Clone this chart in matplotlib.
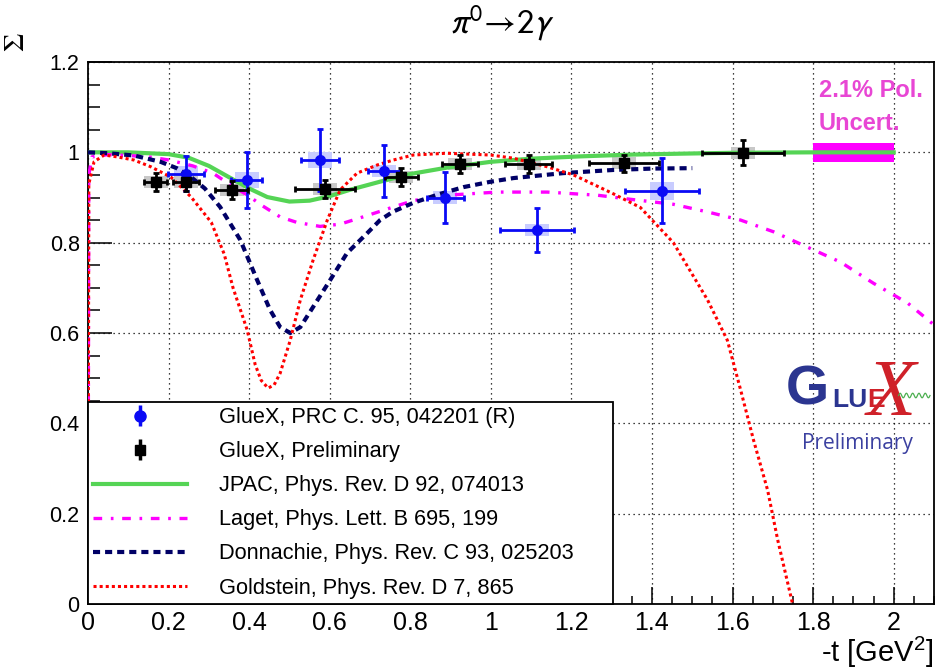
import numpy as np
import matplotlib
matplotlib.use("Agg")
import matplotlib.pyplot as plt
from matplotlib import font_manager
from matplotlib.ticker import MultipleLocator, FuncFormatter


def has_font(name):
    try:
        font_manager.findfont(name, fallback_to_default=False)
        return True
    except ValueError:
        return False


plt.rcParams['font.family'] = ['Liberation Sans', 'DejaVu Sans']
plt.rcParams['mathtext.fontset'] = 'custom'
plt.rcParams['mathtext.rm'] = 'Liberation Sans'
plt.rcParams['mathtext.it'] = 'Liberation Sans:italic'
narrow = 'Liberation Sans Narrow' if has_font('Liberation Sans Narrow') else 'Liberation Sans'

# GlueX, PRC C 95, 042201 (R)
pub_t = [0.243, 0.394, 0.576, 0.734, 0.887, 1.115, 1.425]
pub_sigma = [0.953, 0.939, 0.983, 0.959, 0.900, 0.828, 0.915]
pub_terr = [0.045, 0.038, 0.047, 0.040, 0.046, 0.092, 0.091]
pub_err = [0.039, 0.062, 0.069, 0.057, 0.057, 0.048, 0.072]
pub_sys = [0.017, 0.017, 0.017, 0.014, 0.014, 0.014, 0.020]

# GlueX preliminary
pre_t = [0.168, 0.243, 0.357, 0.589, 0.777, 0.924, 1.094, 1.330, 1.626]
pre_sigma = [0.935, 0.934, 0.916, 0.918, 0.945, 0.974, 0.974, 0.976, 0.999]
pre_terr = [0.028, 0.033, 0.041, 0.075, 0.041, 0.045, 0.058, 0.087, 0.102]
pre_err = [0.020, 0.020, 0.020, 0.020, 0.020, 0.020, 0.020, 0.019, 0.028]
pre_sys = [0.013, 0.013, 0.013, 0.013, 0.013, 0.013, 0.013, 0.013, 0.013]

# model curves
jpac_t = [0.0, 0.1, 0.2, 0.25, 0.3, 0.36, 0.4, 0.445, 0.5, 0.55, 0.6, 0.65,
          0.725, 0.8, 0.89, 1.0, 1.1, 1.22, 1.35, 1.47, 1.6, 1.8, 2.0]
jpac_sigma = [1.0, 1.0, 0.996, 0.988, 0.97, 0.94, 0.92, 0.901, 0.891, 0.893,
              0.903, 0.917, 0.935, 0.952, 0.966, 0.979, 0.986, 0.991, 0.995,
              0.997, 0.999, 1.0, 1.0]

laget_t = [0.0, 0.002, 0.01, 0.05, 0.1, 0.15, 0.201, 0.26, 0.31, 0.35, 0.4,
           0.427, 0.477, 0.518, 0.576, 0.626, 0.693, 0.758, 0.807, 0.89,
           1.016, 1.14, 1.265, 1.347, 1.453, 1.538, 1.62, 1.702, 1.786,
           1.868, 1.95, 2.035, 2.1]
laget_sigma = [0.0, 0.95, 0.99, 0.995, 0.993, 0.99, 0.983, 0.97, 0.954, 0.93,
               0.903, 0.885, 0.857, 0.845, 0.836, 0.841, 0.86, 0.879, 0.893,
               0.905, 0.912, 0.912, 0.905, 0.896, 0.885, 0.868, 0.85, 0.824,
               0.79, 0.757, 0.71, 0.666, 0.618]

donn_t = [0.0, 0.05, 0.114, 0.18, 0.22, 0.256, 0.29, 0.328, 0.378, 0.42,
          0.452, 0.477, 0.502, 0.527, 0.559, 0.601, 0.643, 0.693, 0.725,
          0.758, 0.807, 0.87, 0.932, 1.0, 1.056, 1.18, 1.304, 1.4, 1.5]
donn_sigma = [1.0, 0.998, 0.993, 0.979, 0.965, 0.945, 0.92, 0.879, 0.806,
              0.717, 0.651, 0.613, 0.6, 0.613, 0.658, 0.717, 0.777, 0.821,
              0.85, 0.869, 0.888, 0.907, 0.923, 0.935, 0.943, 0.954, 0.961,
              0.964, 0.965]

gold_t = [0.0, 0.002, 0.015, 0.04, 0.072, 0.114, 0.156, 0.206, 0.256, 0.306,
          0.338, 0.36, 0.395, 0.415, 0.43, 0.447, 0.462, 0.477, 0.502, 0.527,
          0.559, 0.594, 0.626, 0.668, 0.718, 0.758, 0.807, 0.89, 1.0, 1.056,
          1.14, 1.205, 1.3, 1.371, 1.453, 1.538, 1.587, 1.62, 1.652, 1.687,
          1.712, 1.749]
gold_sigma = [0.0, 0.93, 0.979, 0.994, 0.99, 0.983, 0.968, 0.945, 0.901,
              0.845, 0.775, 0.70, 0.607, 0.53, 0.495, 0.478, 0.485, 0.511,
              0.584, 0.673, 0.762, 0.85, 0.917, 0.954, 0.972, 0.983, 0.994,
              0.998, 0.994, 0.987, 0.968, 0.95, 0.91, 0.878, 0.8, 0.673,
              0.584, 0.474, 0.363, 0.252, 0.142, 0.0]

pol_range = [1.8, 2.0]
pol_uncert = 0.021

labels = ['GlueX, PRC C. 95, 042201 (R)', 'GlueX, Preliminary',
          'JPAC, Phys. Rev. D 92, 074013', 'Laget, Phys. Lett. B 695, 199',
          'Donnachie, Phys. Rev. C 93, 025203', 'Goldstein, Phys. Rev. D 7, 865']

navy_logo = '#2b3590'
red_logo = '#cf2129'

fig = plt.figure(figsize=(9.52, 6.70), dpi=100)
ax = fig.add_axes([88 / 952, 1 - 604 / 670, 846 / 952, 542 / 670])
ax.set_xlim(0, 2.1)
ax.set_ylim(0, 1.2)

# systematic boxes
ax.bar(pub_t, 2 * np.array(pub_sys), bottom=np.array(pub_sigma) - pub_sys,
       width=0.06, color='#c8ccff', zorder=2)
ax.bar(pre_t, 2 * np.array(pre_sys), bottom=np.array(pre_sigma) - pre_sys,
       width=0.06, color='#c8c8c8', zorder=2)

# polarisation uncertainty band
ax.fill_between(pol_range, 1 - pol_uncert, 1 + pol_uncert, color='#ff00ff',
                linewidth=0, zorder=3)

ax.plot(jpac_t, jpac_sigma, color='#55d455', lw=3.0, zorder=4, label=labels[2])
ax.plot(laget_t, laget_sigma, color='#ff00ff', lw=2.4, zorder=4,
        dashes=(2.6, 2.6, 0.8, 2.6), label=labels[3])
ax.plot(donn_t, donn_sigma, color='#000066', lw=3.0, zorder=4,
        dashes=(1.7, 1.2), label=labels[4])
ax.plot(gold_t, gold_sigma, color='#ff0000', lw=2.2, zorder=4,
        dashes=(1.0, 1.0), label=labels[5])

ax.errorbar(pub_t, pub_sigma, xerr=pub_terr, yerr=pub_err, fmt='o',
            color='#0a0af5', ms=7, elinewidth=2, capsize=2.5, capthick=2,
            zorder=6)
ax.errorbar(pre_t, pre_sigma, xerr=pre_terr, yerr=pre_err, fmt='s',
            color='black', ms=7, elinewidth=2, capsize=2.5, capthick=2,
            zorder=6)

# legend proxies: vertical bars only
h_pub = ax.errorbar([np.nan], [np.nan], yerr=[0.1], fmt='o', color='#0a0af5',
                    ms=8, elinewidth=2.5, label=labels[0])
h_pre = ax.errorbar([np.nan], [np.nan], yerr=[0.1], fmt='s', color='black',
                    ms=7, elinewidth=2.5, label=labels[1])

handles, _ = ax.get_legend_handles_labels()
lines = [h for h in handles if not hasattr(h, 'has_xerr')]
leg = ax.legend([h_pub, h_pre] + lines, labels, loc='lower left',
                bbox_to_anchor=(0, 0, 0.621, 1), mode='expand',
                borderaxespad=0, fancybox=False, framealpha=1,
                edgecolor='black', fontsize=15.7, handlelength=4.3,
                handletextpad=1.45, labelspacing=0.6, borderpad=0.25)
leg.get_frame().set_linewidth(1.3)
leg.set_zorder(5)

# axes styling
ax.xaxis.set_major_locator(MultipleLocator(0.2))
ax.xaxis.set_minor_locator(MultipleLocator(0.05))
ax.yaxis.set_major_locator(MultipleLocator(0.2))
ax.yaxis.set_minor_locator(MultipleLocator(0.05))
fmt = FuncFormatter(lambda v, p: '%g' % round(v, 2))
ax.xaxis.set_major_formatter(fmt)
ax.yaxis.set_major_formatter(fmt)
ax.tick_params(axis='both', which='both', direction='in', top=False,
               right=False, width=1.1, color='black')
ax.tick_params(axis='y', which='major', length=17, pad=6, labelsize=15.5)
ax.tick_params(axis='y', which='minor', length=8.5)
ax.tick_params(axis='x', which='major', length=12, pad=5, labelsize=18)
ax.tick_params(axis='x', which='minor', length=6)
for lab in ax.get_xticklabels():
    lab.set_family(narrow)
for s in ax.spines.values():
    s.set_linewidth(1.3)
ax.grid(which='major', color='black', linestyle=(0, (1, 3)), linewidth=0.9)
ax.set_axisbelow(True)

ax.set_xlabel(r'-t [GeV$^{2}$]', loc='right', fontsize=21, family=narrow,
              labelpad=0)
ax.set_ylabel(r'$\Sigma$', math_fontfamily='stix', fontsize=21, rotation=90)
ax.yaxis.set_label_coords(-0.069, 1.037)
ax.set_title(r'$\pi^{0}\!\rightarrow\!\mathsf{2}\gamma$', math_fontfamily='stixsans',
             fontsize=25, x=0.49, pad=20)

# polarisation note
ax.text(1.814, 1.122, '2.1% Pol.', color='#e846d4', fontsize=17,
        fontweight='bold', va='baseline')
ax.text(1.814, 1.049, 'Uncert.', color='#e846d4', fontsize=17,
        fontweight='bold', va='baseline')

# GlueX logo
ax.text(1.786, 0.472, 'G', ha='center', va='center', fontsize=40,
        fontweight='bold', color=navy_logo, zorder=7)
ax.text(1.848, 0.436, 'LU', ha='left', va='baseline', fontsize=19,
        fontweight='bold', color=navy_logo, zorder=7)
ax.text(1.935, 0.436, 'E', ha='left', va='baseline', fontsize=19,
        fontweight='bold', color=red_logo, zorder=7)
ax.text(1.995, 0.418, 'X', ha='center', va='baseline', fontsize=58,
        family='Liberation Serif', style='italic', color=red_logo, zorder=7)
wt = np.linspace(2.012, 2.09, 120)
ax.plot(wt, 0.4616 + 0.005 * np.sin((wt - 2.012) * 2 * np.pi / 0.0156),
        color='#4caf50', lw=0.9, zorder=8)
ax.text(1.91, 0.356, 'Preliminary', ha='center', va='center', fontsize=15,
        family=['Open Sans', 'Liberation Sans'], color='#3b40a0', zorder=7)

fig.savefig('out.png', dpi=100)
